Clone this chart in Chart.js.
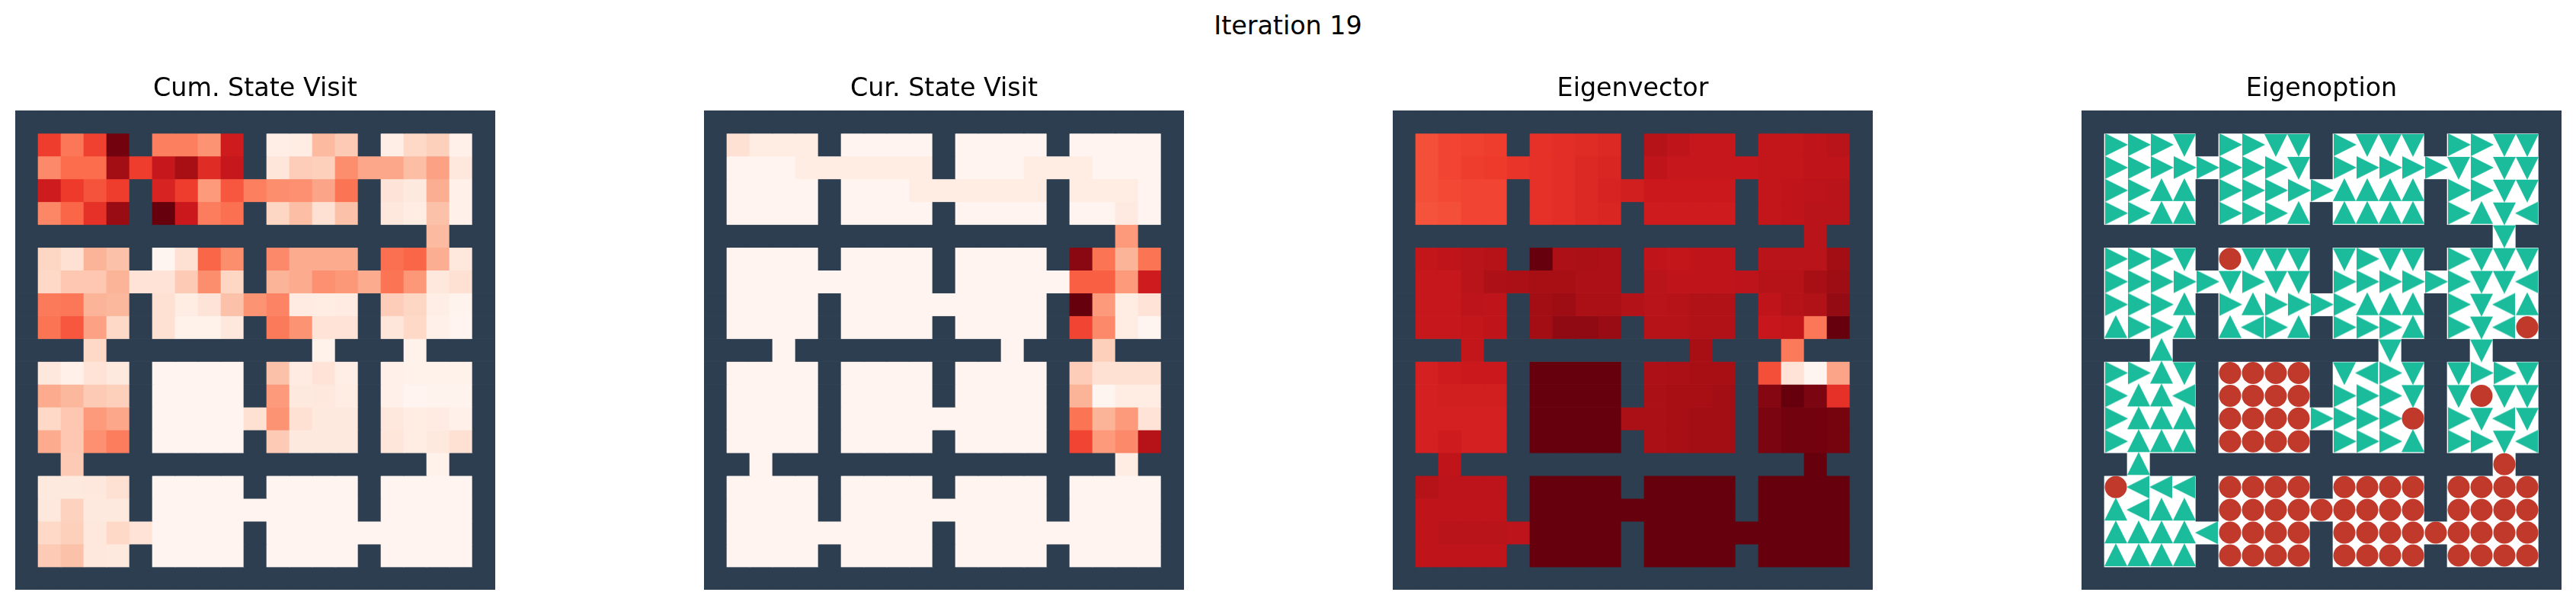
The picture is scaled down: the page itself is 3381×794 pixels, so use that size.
<!DOCTYPE html>
<html>
<head>
<meta charset="utf-8">
<title>Iteration 19</title>
<script src="https://cdn.jsdelivr.net/npm/chart.js@4"></script>
<style>
html, body { margin: 0; padding: 0; background: #fff; }
body { position: relative; width: 3381px; height: 794px; overflow: hidden; }
#suptitle { position: absolute; left: 0; width: 3381px; top: 14px; text-align: center; font: 33.33px/40px "DejaVu Sans"; color: #000; }
canvas { position: absolute; }
</style>
</head>
<body>
<div id="suptitle">Iteration 19</div>
<canvas id="cumChart"></canvas>
<canvas id="curChart"></canvas>
<canvas id="eigvecChart"></canvas>
<canvas id="optionChart"></canvas>
<script>
const W = null; // wall cell

const wallRow = [W,W,W,W,W,W,W,W,W,W,W,W,W,W,W,W,W,W,W,W,W];

// Cum. State Visit, colormap position 0..1
const cumVisit = [
  wallRow,
  [W,.62,.46,.61,.98,W,.43,.43,.37,.74,W,.04,.05,.25,.20,W,.04,.15,.18,.03,W],
  [W,.40,.49,.49,.88,.62,.77,.87,.68,.77,W,.09,.19,.18,.39,.31,.31,.24,.33,.08,W],
  [W,.74,.63,.56,.62,W,.71,.62,.35,.55,.43,.39,.38,.32,.47,W,.10,.07,.29,.03,W],
  [W,.41,.51,.66,.90,W,1,.75,.44,.48,W,.16,.24,.12,.23,W,.08,.05,.23,.03,W],
  [W,W,W,W,W,W,W,W,W,W,W,W,W,W,W,W,W,W,.25,W,W],
  [W,.16,.12,.27,.23,W,0,.12,.51,.39,W,.40,.30,.30,.30,W,.48,.51,.29,.08,W],
  [W,.15,.21,.21,.27,.11,.11,.20,.39,.16,W,.27,.30,.38,.36,.30,.47,.36,.08,.12,W],
  [W,.45,.46,.27,.26,W,.12,.05,.10,.23,.37,.42,.06,.05,.06,W,.19,.16,.04,.01,W],
  [W,.47,.55,.33,.15,W,.12,.02,.02,.08,W,.45,.37,.11,.11,W,.09,.15,.03,.005,W],
  [W,W,W,.15,W,W,W,W,W,W,W,W,W,.02,W,W,W,.02,W,W,W],
  [W,.08,.03,.11,.07,W,.005,.005,.005,.005,W,.23,.06,.11,.04,W,.03,.02,.02,.02,W],
  [W,.30,.26,.20,.18,W,.005,.005,.005,.005,W,.35,.07,.08,.05,W,.03,.005,.01,.01,W],
  [W,.15,.21,.35,.31,W,.005,.005,.005,.005,.12,.37,.12,.07,.07,W,.08,.05,.06,.03,W],
  [W,.30,.21,.38,.44,W,.005,.005,.005,.005,W,.20,.07,.07,.07,W,.09,.05,.07,.12,W],
  [W,W,.20,W,W,W,W,W,W,W,W,W,W,W,W,W,W,W,.02,W,W],
  [W,.07,.07,.08,.12,W,.005,.005,.005,.005,W,.005,.005,.005,.005,W,.005,.005,.005,.005,W],
  [W,.08,.17,.07,.07,W,.005,.005,.005,.005,.005,.005,.005,.005,.005,W,.005,.005,.005,.005,W],
  [W,.15,.18,.08,.15,.11,.005,.005,.005,.005,W,.005,.005,.005,.005,.005,.005,.005,.005,.005,W],
  [W,.20,.23,.08,.07,W,.005,.005,.005,.005,W,.005,.005,.005,.005,W,.005,.005,.005,.005,W],
  wallRow
];

// Cur. State Visit
const curVisit = [
  wallRow,
  [W,.12,.055,.055,.055,W,.005,.005,.005,.005,W,.005,.005,.005,.005,W,.005,.005,.005,.005,W],
  [W,.005,.005,.005,.055,.055,.055,.055,.055,.055,W,.005,.005,.005,.055,.055,.055,.005,.005,.005,W],
  [W,.005,.005,.005,.005,W,.005,.005,.005,.055,.055,.055,.055,.055,.055,W,.055,.055,.055,.005,W],
  [W,.005,.005,.005,.005,W,.005,.005,.005,.005,W,.005,.005,.005,.005,W,.005,.005,.065,.005,W],
  [W,W,W,W,W,W,W,W,W,W,W,W,W,W,W,W,W,W,.35,W,W],
  [W,.005,.005,.005,.005,W,.005,.005,.005,.005,W,.005,.005,.005,.005,W,.93,.47,.27,.47,W],
  [W,.005,.005,.005,.005,.005,.005,.005,.005,.005,W,.005,.005,.005,.005,.005,.53,.53,.35,.74,W],
  [W,.005,.005,.005,.005,W,.005,.005,.005,.005,.005,.005,.005,.005,.005,W,1,.35,.05,.11,W],
  [W,.005,.005,.005,.005,W,.005,.005,.005,.005,W,.005,.005,.005,.005,W,.60,.40,.055,0,W],
  [W,W,W,.005,W,W,W,W,W,W,W,W,W,.005,W,W,W,.18,W,W,W],
  [W,.005,.005,.005,.005,W,.005,.005,.005,.005,W,.005,.005,.005,.005,W,.19,.12,.12,.12,W],
  [W,.005,.005,.005,.005,W,.005,.005,.005,.005,W,.005,.005,.005,.005,W,.27,0,.055,.055,W],
  [W,.005,.005,.005,.005,W,.005,.005,.005,.005,.005,.005,.005,.005,.005,W,.47,.27,.35,.11,W],
  [W,.005,.005,.005,.005,W,.005,.005,.005,.005,W,.005,.005,.005,.005,W,.60,.35,.40,.82,W],
  [W,W,.005,W,W,W,W,W,W,W,W,W,W,W,W,W,W,W,.05,W,W],
  [W,.005,.005,.005,.005,W,.005,.005,.005,.005,W,.005,.005,.005,.005,W,.005,.005,.005,.005,W],
  [W,.005,.005,.005,.005,W,.005,.005,.005,.005,.005,.005,.005,.005,.005,W,.005,.005,.005,.005,W],
  [W,.005,.005,.005,.005,.005,.005,.005,.005,.005,W,.005,.005,.005,.005,.005,.005,.005,.005,.005,W],
  [W,.005,.005,.005,.005,W,.005,.005,.005,.005,W,.005,.005,.005,.005,W,.005,.005,.005,.005,W],
  wallRow
];

// Eigenvector
const eigvec = [
  wallRow,
  [W,.57,.60,.61,.62,W,.66,.67,.68,.69,W,.82,.79,.77,.77,W,.78,.78,.79,.81,W],
  [W,.57,.60,.62,.63,.65,.66,.67,.69,.70,W,.79,.77,.77,.77,.76,.78,.78,.79,.79,W],
  [W,.57,.59,.60,.60,W,.66,.67,.69,.71,.73,.75,.75,.75,.75,W,.78,.79,.80,.81,W],
  [W,.56,.57,.60,.60,W,.66,.67,.69,.70,W,.74,.74,.74,.74,W,.78,.79,.81,.81,W],
  [W,W,W,W,W,W,W,W,W,W,W,W,W,W,W,W,W,W,.81,W,W],
  [W,.78,.79,.81,.82,W,1,.85,.86,.85,W,.79,.78,.79,.79,W,.81,.81,.81,.88,W],
  [W,.77,.77,.81,.85,.86,.87,.87,.85,.85,W,.81,.79,.79,.79,.80,.82,.82,.87,.89,W],
  [W,.77,.77,.80,.79,W,.88,.89,.86,.86,.83,.81,.82,.84,.84,W,.79,.82,.84,.91,W],
  [W,.77,.77,.78,.79,W,.88,.92,.92,.90,W,.82,.82,.84,.84,W,.76,.78,.46,1,W],
  [W,W,W,.78,W,W,W,W,W,W,W,W,W,.87,W,W,W,.45,W,W,W],
  [W,.72,.74,.75,.75,W,1,1,1,1,W,.85,.86,.87,.87,W,.57,.11,0,.32,W],
  [W,.72,.73,.73,.73,W,1,1,1,1,W,.86,.87,.87,.88,W,.94,1,.96,.66,W],
  [W,.72,.72,.72,.72,W,1,1,1,1,.86,.86,.87,.88,.88,W,.96,.98,.98,.97,W],
  [W,.72,.74,.72,.72,W,1,1,1,1,W,.86,.87,.88,.88,W,.96,.98,.98,.97,W],
  [W,W,.79,W,W,W,W,W,W,W,W,W,W,W,W,W,W,W,1,W,W],
  [W,.82,.80,.80,.80,W,1,1,1,1,W,1,1,1,1,W,1,1,1,1,W],
  [W,.79,.79,.79,.79,W,1,1,1,1,1,1,1,1,1,W,1,1,1,1,W],
  [W,.79,.81,.81,.81,.80,1,1,1,1,W,1,1,1,1,1,1,1,1,1,W],
  [W,.79,.79,.79,.79,W,1,1,1,1,W,1,1,1,1,W,1,1,1,1,W],
  wallRow
];

// Eigenoption: one letter per cell, # wall, U D L R arrow, C terminate
const optionActions = [
  '#####################',
  '#RRRD#RRDD#RDDD#RRDD#',
  '#RRRRRRRRD#RRRRRDRDD#',
  '#RRUU#RRRRRUUUU#RRDD#',
  '#RRUU#RRRU#UUUU#RUDL#',
  '##################D##',
  '#RRRD#CDDD#DRDD#RDDD#',
  '#RRRRRDRDD#RRRRRRDDL#',
  '#RRRU#RURRRRUUU#RDLU#',
  '#URRU#ULRU#RRRU#RDLC#',
  '###U#########D###D###',
  '#RRUD#CCCC#DLRD#DRRD#',
  '#RUUL#CCCC#RRRD#DCDD#',
  '#RUUU#CCCCRRRRC#RDLD#',
  '#RUUU#CCCC#RRRU#RRDL#',
  '##U###############C##',
  '#CLLL#CCCC#CCCC#CCCC#',
  '#ULUU#CCCCCCCCC#CCCC#',
  '#UUUULCCCC#CCCCCCCCC#',
  '#UUUU#CCCC#CCCC#CCCC#',
  '#####################'
];

const panelTitles = ['Cum. State Visit', 'Cur. State Visit', 'Eigenvector', 'Eigenoption'];
const panelLefts = [20, 924, 1828, 2732];
const columns = wallRow.map((_, i) => i);

const wallColor = '#2c3e50';
const arrowColor = '#1abc9c';
const stopColor = '#c0392b';
const reds = ['#fff5f0', '#fee0d2', '#fcbba1', '#fc9272', '#fb6a4a', '#ef3b2c', '#cb181d', '#a50f15', '#67000d'];

function hexToRgb(h) {
  return [1, 3, 5].map(i => parseInt(h.slice(i, i + 2), 16));
}

function redsColor(t) {
  const pos = Math.min(t, 1) * (reds.length - 1);
  const lo = Math.min(Math.floor(pos), reds.length - 2);
  const a = hexToRgb(reds[lo]), b = hexToRgb(reds[lo + 1]);
  const c = a.map((v, i) => Math.round(v + (b[i] - v) * (pos - lo)));
  return `rgb(${c[0]},${c[1]},${c[2]})`;
}

// marker pointing up, rotated for the other directions
function makeArrow() {
  const c = document.createElement('canvas');
  c.width = 32;
  c.height = 32;
  const g = c.getContext('2d');
  g.fillStyle = arrowColor;
  g.beginPath();
  g.moveTo(16, 0);
  g.lineTo(31, 30);
  g.lineTo(1, 30);
  g.closePath();
  g.fill();
  return c;
}

// one stacked dataset per grid row, every cell is one unit tall
function rowDatasets(colorOf) {
  return optionActions.map((_, r) => ({
    data: columns.map(() => 1),
    backgroundColor: columns.map(c => colorOf(r, c)),
    borderWidth: 0,
    barPercentage: 1,
    categoryPercentage: 1,
    stack: 'grid',
    yAxisID: 'y',
    order: 2
  }));
}

function markerDataset(letter, style, rotation, radius) {
  const pts = [];
  optionActions.forEach((row, r) => {
    row.split('').forEach((ch, c) => {
      if (ch === letter) pts.push({ x: c, y: r + 0.5 });
    });
  });
  return {
    type: 'line',
    data: pts,
    showLine: false,
    yAxisID: 'yMarks',
    pointStyle: style,
    pointRotation: rotation,
    pointRadius: radius,
    pointBackgroundColor: stopColor,
    pointBorderWidth: 0,
    order: 1
  };
}

function makePanel(id, index, datasets) {
  const canvas = document.getElementById(id);
  canvas.width = 630;
  canvas.height = 679;
  canvas.style.left = panelLefts[index] + 'px';
  canvas.style.top = '95px';
  canvas.style.width = '630px';
  canvas.style.height = '679px';
  new Chart(canvas, {
    type: 'bar',
    data: { labels: columns, datasets: datasets },
    options: {
      responsive: false,
      animation: false,
      layout: { padding: 0, autoPadding: false },
      plugins: {
        legend: { display: false },
        tooltip: { enabled: false },
        title: {
          display: true,
          text: panelTitles[index],
          color: '#000',
          font: { family: 'DejaVu Sans', size: 33.33, weight: 'normal', lineHeight: 1 },
          padding: { top: 5.67, bottom: 11 }
        }
      },
      scales: {
        x: { display: false, stacked: true },
        y: { display: false, stacked: true, reverse: true, min: 0, max: 21 },
        yMarks: { display: false, reverse: true, min: 0, max: 21 }
      }
    }
  });
}

function heatColor(matrix) {
  return (r, c) => (matrix[r][c] === W ? wallColor : redsColor(matrix[r][c]));
}

makePanel('cumChart', 0, rowDatasets(heatColor(cumVisit)));
makePanel('curChart', 1, rowDatasets(heatColor(curVisit)));
makePanel('eigvecChart', 2, rowDatasets(heatColor(eigvec)));

const arrow = makeArrow();
makePanel('optionChart', 3, rowDatasets((r, c) => (optionActions[r][c] === '#' ? wallColor : '#fff')).concat([
  markerDataset('U', arrow, 0, 15),
  markerDataset('R', arrow, 90, 15),
  markerDataset('D', arrow, 180, 15),
  markerDataset('L', arrow, 270, 15),
  markerDataset('C', 'circle', 0, 14.5)
]));
</script>
</body>
</html>
